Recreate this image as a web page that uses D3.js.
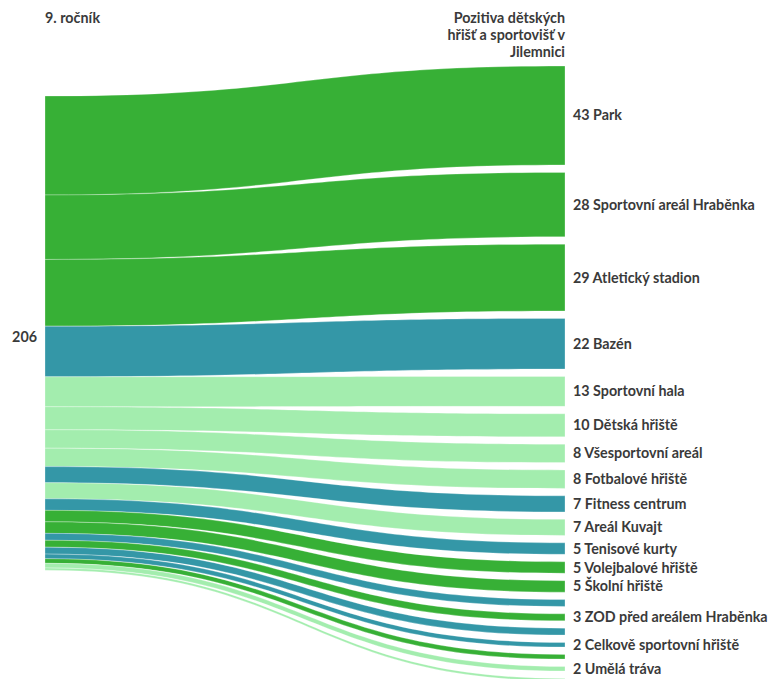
<!DOCTYPE html>
<html>
<head>
<meta charset="utf-8">
<script src="https://cdn.jsdelivr.net/npm/d3@7"></script>
<style>
  html, body { margin: 0; padding: 0; background: #fff; }
  svg { display: block; }
  text { font-family: Lato, "Open Sans", sans-serif; fill: #3a3a3a; }
</style>
</head>
<body>
<svg id="chart" width="768" height="679"></svg>
<script>
// ---- data ----
const sourceLabel = "9. ročník";
const targetHeaderLines = ["Pozitiva dětských", "hřišť a sportovišť v", "Jilemnici"];
const categories = [
  "Park", "Sportovní areál Hraběnka", "Atletický stadion", "Bazén",
  "Sportovní hala", "Dětská hřiště", "Všesportovní areál", "Fotbalové hřiště",
  "Fitness centrum", "Areál Kuvajt", "Tenisové kurty", "Volejbalové hřiště",
  "Školní hřiště", "Další A", "ZOD před areálem Hraběnka", "Další B",
  "Celkově sportovní hřiště", "Další C", "Umělá tráva", "Další D"
];
const values = [43, 28, 29, 22, 13, 10, 8, 8, 7, 7, 5, 5, 5, 3, 3, 3, 2, 2, 2, 1];
const colorGroups = [
  "green", "green", "green", "teal",
  "light", "light", "light", "light",
  "teal", "light", "teal", "green",
  "green", "teal", "green", "teal",
  "teal", "green", "light", "light"
];
const palette = { green: "#37b036", teal: "#3497a7", light: "#a3edae" };

// ---- layout ----
const total = d3.sum(values);
const x0 = 45, x1 = 565;
const leftTop = 96, rightTop = 66, gap = 7.4;
const fs = 14.3;
const h = d3.scaleLinear().domain([0, total]).range([0, 474.2]);

let ls = leftTop, rs = rightTop;
const links = categories.map((name, i) => {
  const v = values[i];
  const d = {
    name, value: v, color: palette[colorGroups[i]],
    sy0: ls, sy1: ls + h(v),
    ty0: rs, ty1: rs + h(v)
  };
  ls += h(v);
  rs += h(v) + gap;
  return d;
});

const svg = d3.select("#chart");

function linkPath(d) {
  const xm = (x0 + x1) / 2;
  const p = d3.path();
  p.moveTo(x0, d.sy0);
  p.bezierCurveTo(xm, d.sy0, xm, d.ty0, x1, d.ty0);
  p.lineTo(x1, d.ty1);
  p.bezierCurveTo(xm, d.ty1, xm, d.sy1, x0, d.sy1);
  p.closePath();
  return p.toString();
}

svg.append("g").selectAll("path")
  .data(links)
  .join("path")
  .attr("d", linkPath)
  .attr("fill", d => d.color)
  .attr("stroke", "#ffffff")
  .attr("stroke-width", 0.4)
  .attr("stroke-opacity", 0.7);

// right labels with collision hiding
let lastY = -Infinity;
const lab = svg.append("g")
  .attr("font-size", fs).attr("font-weight", 700);
links.forEach(d => {
  const cy = (d.ty0 + d.ty1) / 2;
  if (cy - lastY < 17) return;
  lastY = cy;
  lab.append("text")
    .attr("x", x1 + 8)
    .attr("y", cy)
    .attr("dy", "0.35em")
    .text(d.value + " " + d.name);
});

// left node label
svg.append("text")
  .attr("x", x0 - 8)
  .attr("y", (leftTop + ls) / 2 + 4)
  .attr("dy", "0.35em")
  .attr("text-anchor", "end")
  .attr("font-size", fs).attr("font-weight", 700)
  .text(total);

// headers
svg.append("text")
  .attr("x", x0).attr("y", 23)
  .attr("font-size", fs).attr("font-weight", 700)
  .text(sourceLabel);

svg.append("text")
  .attr("text-anchor", "end")
  .attr("font-size", fs).attr("font-weight", 700)
  .selectAll("tspan")
  .data(targetHeaderLines)
  .join("tspan")
  .attr("x", x1)
  .attr("y", (d, i) => 23 + i * 17)
  .text(d => d);
</script>
</body>
</html>
